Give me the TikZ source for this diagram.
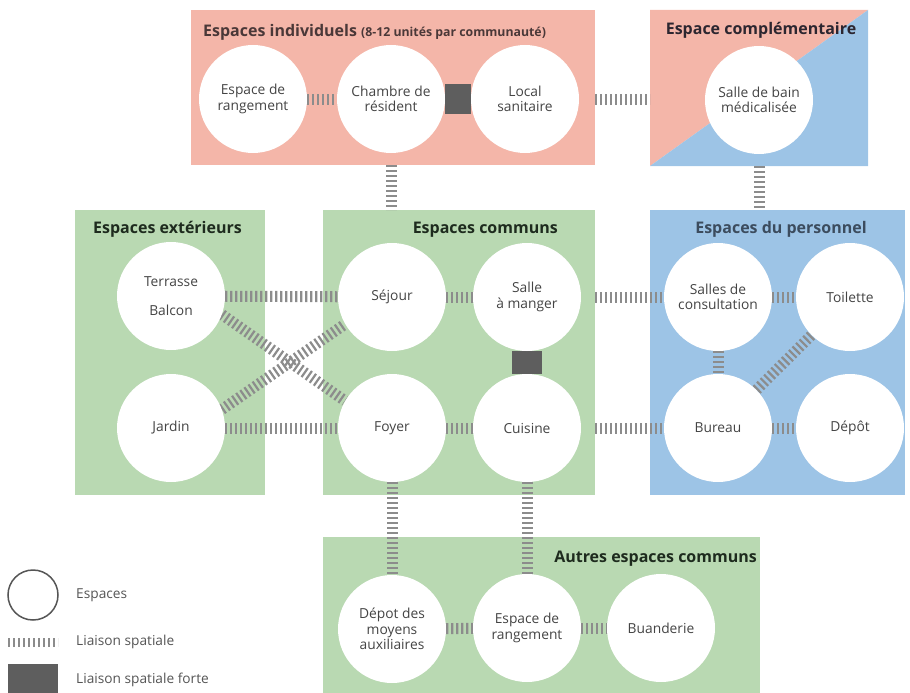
\documentclass[tikz,border=0pt]{standalone}
\usepackage{fontspec}
\setmainfont{Open Sans}
\pgfdeclarelayer{panels}
\pgfdeclarelayer{links}
\pgfsetlayers{panels,links,main}
\definecolor{pinkp}{HTML}{F4B6A9}
\definecolor{greenp}{HTML}{B9D9B2}
\definecolor{bluep}{HTML}{9DC4E6}
\definecolor{hatch}{HTML}{8C8C8C}
\definecolor{strong}{HTML}{5E5E5E}
\definecolor{txt}{HTML}{444444}
\definecolor{legtxt}{HTML}{555555}
\definecolor{ttlpink}{HTML}{4A3838}
\definecolor{ttldark}{HTML}{2C2630}
\definecolor{ttlgreen}{HTML}{1E2B1E}
\definecolor{ttlblue}{HTML}{3C4C5E}
\begin{document}
\begin{tikzpicture}[x=1pt,y=-1pt,
  space/.style={circle, fill=white, minimum size=108pt, inner sep=0pt, align=center, text=txt, font=\fontsize{13.8}{15.5}\selectfont},
  panel/.style={anchor=north west, inner sep=0pt, outer sep=0pt},
  liaison/.style={draw=hatch, line width=11pt, dash pattern=on 2.2pt off 2.8pt},
  forte/.style={draw=strong, line width=30pt},
  ttl/.style={font=\fontsize{16}{19}\selectfont\bfseries, inner sep=0pt},
  leg/.style={font=\fontsize{13.7}{15}\selectfont, text=legtxt, anchor=west, inner sep=0pt}]
\useasboundingbox (0,0) rectangle (910,693);

% panels
\begin{pgfonlayer}{panels}
\node[panel, fill=pinkp, minimum width=404pt, minimum height=155pt] (indiv) at (191,10) {};
\node[panel, minimum width=218pt, minimum height=156pt] (compl) at (650,10) {};
\fill[pinkp] (compl.north west) -- (compl.south west) -- (compl.north east) -- cycle;
\fill[bluep] (compl.north east) -- (compl.south east) -- (compl.south west) -- cycle;
\node[panel, fill=greenp, minimum width=190pt, minimum height=285pt] (ext) at (75,210) {};
\node[panel, fill=greenp, minimum width=272pt, minimum height=285pt] (communs) at (323,210) {};
\node[panel, fill=bluep, minimum width=255pt, minimum height=285pt] (pers) at (650,210) {};
\node[panel, fill=greenp, minimum width=437pt, minimum height=160pt] (autres) at (323,537) {};
\end{pgfonlayer}

% titles
\node[ttl, text=ttlpink, anchor=base west] (tindiv) at (203,37) {Espaces individuels {\fontsize{12.3}{14}\selectfont (8-12 unités par communauté)}};
\node[ttl, text=ttldark, anchor=base] (tcompl) at (761,35) {Espace complémentaire};
\node[ttl, text=ttlgreen, anchor=base west] (text) at (93,233) {Espaces extérieurs};
\node[ttl, text=ttlgreen, anchor=base east] (tcomm) at (558,233) {Espaces communs};
\node[ttl, text=ttlblue, anchor=base] (tpers) at (781,233) {Espaces du personnel};
\node[ttl, text=ttlgreen, anchor=base east] (tautres) at (757,562) {Autres espaces communs};

% spaces
\node[space] (rang1) at (253,99) {Espace de\\rangement};
\node[space] (chambre) at (391,99) {Chambre de\\résident};
\node[space] (sanit) at (525,99) {Local\\sanitaire};
\node[space] (sdb) at (759,100) {Salle de bain\\médicalisée};
\node[space] (terrasse) at (171,296) {Terrasse\\[14pt]Balcon};
\node[space] (jardin) at (171,428) {Jardin};
\node[space] (sejour) at (392,297) {Séjour};
\node[space] (sam) at (527,297) {Salle\\à manger};
\node[space] (foyer) at (392,428) {Foyer};
\node[space] (cuisine) at (527,428) {Cuisine};
\node[space] (consult) at (718,297) {Salles de\\consultation};
\node[space] (toilette) at (850,297) {Toilette};
\node[space] (bureau) at (718,428) {Bureau};
\node[space] (depot) at (850,428) {Dépôt};
\node[space] (depmoy) at (392,629) {Dépot des\\moyens\\auxiliaires};
\node[space] (rang2) at (527,628) {Espace de\\rangement};
\node[space] (buand) at (661,628) {Buanderie};

% links
\begin{pgfonlayer}{links}
\draw[liaison] (rang1) -- (chambre);
\draw[forte] (chambre) -- (sanit);
\draw[liaison] (indiv.east |- sanit) -- (compl.west |- sanit);
\draw[liaison] (chambre |- indiv.south) -- (chambre |- communs.north);
\draw[liaison] (sdb |- compl.south) -- (sdb |- pers.north);
\draw[liaison] (terrasse) -- (sejour);
\draw[liaison] (jardin) -- (foyer);
\draw[liaison] (terrasse.-20) -- (foyer.150);
\draw[liaison] (jardin.20) -- (sejour.210);
\draw[liaison] (sejour) -- (sam);
\draw[liaison] (foyer) -- (cuisine);
\draw[forte] (sam) -- (cuisine);
\draw[liaison] (communs.east |- sam) -- (consult);
\draw[liaison] (communs.east |- cuisine) -- (bureau);
\draw[liaison] (consult) -- (toilette);
\draw[liaison] (consult) -- (bureau);
\draw[liaison] (bureau) -- (depot);
\draw[liaison] (bureau) -- (toilette);
\draw[liaison] (foyer) -- (depmoy);
\draw[liaison] (cuisine) -- (rang2);
\draw[liaison] (depmoy) -- (rang2);
\draw[liaison] (rang2) -- (buand);
\end{pgfonlayer}

% legend
\node[circle, draw=legtxt, line width=1.5pt, fill=white, minimum size=50pt, inner sep=0pt] (legc) at (33,595) {};
\node[leg] (legt1) at (76,595) {Espaces};
\coordinate (lh1) at (8,642);
\coordinate (lh2) at (58,642);
\draw[liaison, line width=9pt] (lh1) -- (lh2);
\node[leg] (legt2) at (76,642) {Liaison spatiale};
\node[fill=strong, minimum width=50pt, minimum height=32pt, inner sep=0pt, anchor=north west] (legf) at (8,664) {};
\node[leg] (legt3) at (76,680) {Liaison spatiale forte};
\end{tikzpicture}
\end{document}
